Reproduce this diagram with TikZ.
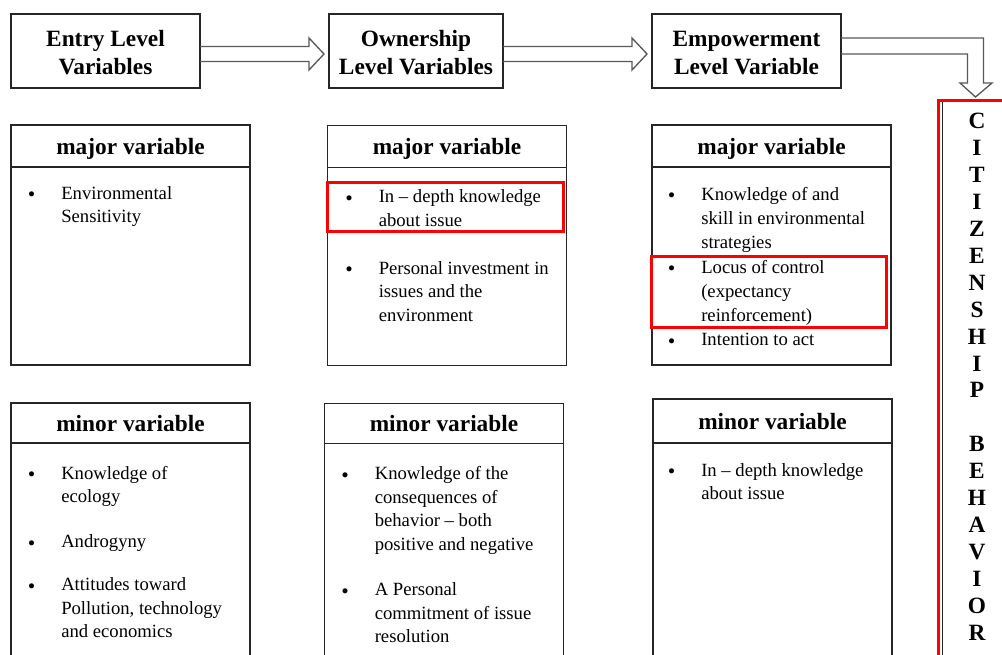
\documentclass[tikz,border=0pt]{standalone}
\usepackage{fontspec}
\setmainfont{Liberation Serif}
\usetikzlibrary{positioning,calc}

\definecolor{boxline}{HTML}{262626}
\definecolor{arrowline}{HTML}{595959}
\definecolor{markred}{HTML}{FF0000}

\newcommand{\lvltitle}{\fontsize{17.5}{21}\selectfont\bfseries}
\newcommand{\lvlbody}{\fontsize{14}{17.7}\selectfont}
\newcommand{\itemrows}[1]{\begin{tabular}{@{}p{24.75pt}@{}l@{}}#1\end{tabular}}
\newcommand{\topstrut}{\rule{0pt}{15pt}}
\newcommand{\bdot}{\raisebox{-1.2pt}{\bfseries\textbullet}}

\tikzset{
  levelbox/.style={rectangle, draw=boxline, line width=0.9pt,
    minimum height=55.5pt, font=\lvltitle, align=center,
    inner sep=2pt, outer sep=0pt},
  headbox/.style={rectangle, draw=boxline, line width=0.9pt,
    minimum width=179.25pt, minimum height=#1, font=\lvltitle,
    text height=12.5pt, text depth=0pt, inner sep=0pt, outer sep=0pt},
  headbox/.default=31.5pt,
  framebox/.style={rectangle, draw=boxline, line width=0.9pt,
    minimum width=179.25pt, minimum height=#1,
    inner sep=0pt, outer sep=0pt},
  framebox/.default=148.5pt,
  itemlist/.style={anchor=north west, inner sep=0pt, font=\lvlbody},
  hollow/.style={draw=arrowline, line width=1pt, line join=miter},
  redmark/.style={draw=markred, line width=2.6pt},
}

\begin{document}
\begin{tikzpicture}[x=0.75pt, y=-0.75pt]

  % page frame, in pixels of the original
  \fill[white] (0,0) rectangle (1002,655);
  \useasboundingbox (0,0) rectangle (1002,655);
  \clip (0,0) rectangle (1002,655);

  % Top row: the three levels
  \node[levelbox, minimum width=141.75pt] (entry) at (105.5,51) {\topstrut Entry Level\\Variables};
  \node[levelbox, minimum width=130.5pt, right=96.75pt of entry] (own) {\topstrut Ownership\\Level Variables};
  \node[levelbox, minimum width=141.75pt, right=111.75pt of own] (emp) {\topstrut Empowerment\\Level Variable};

  % Citizenship behavior column on the right
  \node[draw=boxline, line width=0.9pt, minimum width=54pt, minimum height=430pt,
        anchor=north west, inner sep=0pt] (citizen) at (942,101) {};
  \node[anchor=north, inner sep=0pt, font=\fontsize{17.5}{20.2}\selectfont\bfseries]
        (citizenword) at ($(citizen.north west)+(35,8.5)$)
        {\begin{tabular}{@{}c@{}}C\\I\\T\\I\\Z\\E\\N\\S\\H\\I\\P\\ \\B\\E\\H\\A\\V\\I\\O\\R\end{tabular}};

  % hollow arrows between the levels
  \draw[hollow] ($(entry.east)+(0,-4.5)$) -- ($(own.west)+(-20,-4.5)$) -- ($(own.west)+(-20,-13)$)
    -- ($(own.west)+(-5,3)$) -- ($(own.west)+(-20,19)$) -- ($(own.west)+(-20,10.5)$)
    -- ($(entry.east)+(0,10.5)$);
  \draw[hollow] ($(own.east)+(0,-4.5)$) -- ($(emp.west)+(-20,-4.5)$) -- ($(emp.west)+(-20,-13)$)
    -- ($(emp.west)+(-5,3)$) -- ($(emp.west)+(-20,19)$) -- ($(emp.west)+(-20,10.5)$)
    -- ($(own.east)+(0,10.5)$);
  % bent arrow down into the citizenship column
  \coordinate (tip3) at ($(citizen.north west)+(33.5,-4)$);
  \draw[hollow] ($(emp.east)+(0,-13)$) -- ($(tip3 |- emp.east)+(8,-13)$) -- ($(tip3)+(8,-14)$)
    -- ($(tip3)+(16.5,-14)$) -- (tip3) -- ($(tip3)+(-15.5,-14)$) -- ($(tip3)+(-8,-14)$)
    -- ($(tip3 |- emp.east)+(-8,3)$) -- ($(emp.east)+(0,3)$);

  % Row 1: major variables
  \node[headbox] (majA) at (130.5,146) {major variable};
  \node[framebox, below=0pt of majA] (majAf) {};
  \node[itemlist] (majAlist) at ($(majAf.north west)+(17,15.5)$)
    {\itemrows{\bdot & Environmental\\ & Sensitivity}};

  \node[headbox] (majB) at (447,146.5) {major variable};
  \node[framebox, below=0pt of majB] (majBf) {};
  \node[itemlist] (majBlist) at ($(majBf.north west)+(18,18.5)$)
    {\itemrows{\bdot & In -- depth knowledge\\ & about issue\\[18.3pt]
               \bdot & Personal investment in\\ & issues and the\\ & environment}};

  \node[headbox] (majC) at (771.5,146) {major variable};
  \node[framebox, below=0pt of majC] (majCf) {};
  \node[itemlist, font=\fontsize{14}{18.2}\selectfont] (majClist) at ($(majCf.north west)+(16,16)$)
    {\itemrows{\bdot & Knowledge of and\\ & skill in environmental\\ & strategies\\
               \bdot & Locus of control\\ & (expectancy\\ & reinforcement)\\
               \bdot & Intention to act}};

  % Row 2: minor variables
  \node[headbox=30pt, below=28.5pt of majAf] (minA) {minor variable};
  \node[framebox=200pt, below=0pt of minA] (minAf) {};
  \node[itemlist] (minAlist) at ($(minAf.north west)+(17,19.5)$)
    {\itemrows{\bdot & Knowledge of\\ & ecology\\[16pt]
               \bdot & Androgyny\\[14.5pt]
               \bdot & Attitudes toward\\ & Pollution, technology\\ & and economics}};

  \node[headbox=30pt, below=28.5pt of majBf, xshift=-2.25pt] (minB) {minor variable};
  \node[framebox=200pt, below=0pt of minB] (minBf) {};
  \node[itemlist] (minBlist) at ($(minBf.north west)+(17,19.5)$)
    {\itemrows{\bdot & Knowledge of the\\ & consequences of\\ & behavior -- both\\ & positive and negative\\[16pt]
               \bdot & A Personal\\ & commitment of issue\\ & resolution}};

  \node[headbox=33pt, below=25.5pt of majCf, xshift=0.75pt] (minC) {minor variable};
  \node[framebox=200pt, below=0pt of minC] (minCf) {};
  \node[itemlist] (minClist) at ($(minCf.north west)+(15,16.5)$)
    {\itemrows{\bdot & In -- depth knowledge\\ & about issue}};

  % red marks
  \draw[redmark] (327.5,182.5) rectangle (563.5,231.5);
  \draw[redmark] (651.5,256.5) rectangle (886.5,327.5);
  \draw[redmark] (938.5,100.5) rectangle (1030,690);

\end{tikzpicture}
\end{document}
